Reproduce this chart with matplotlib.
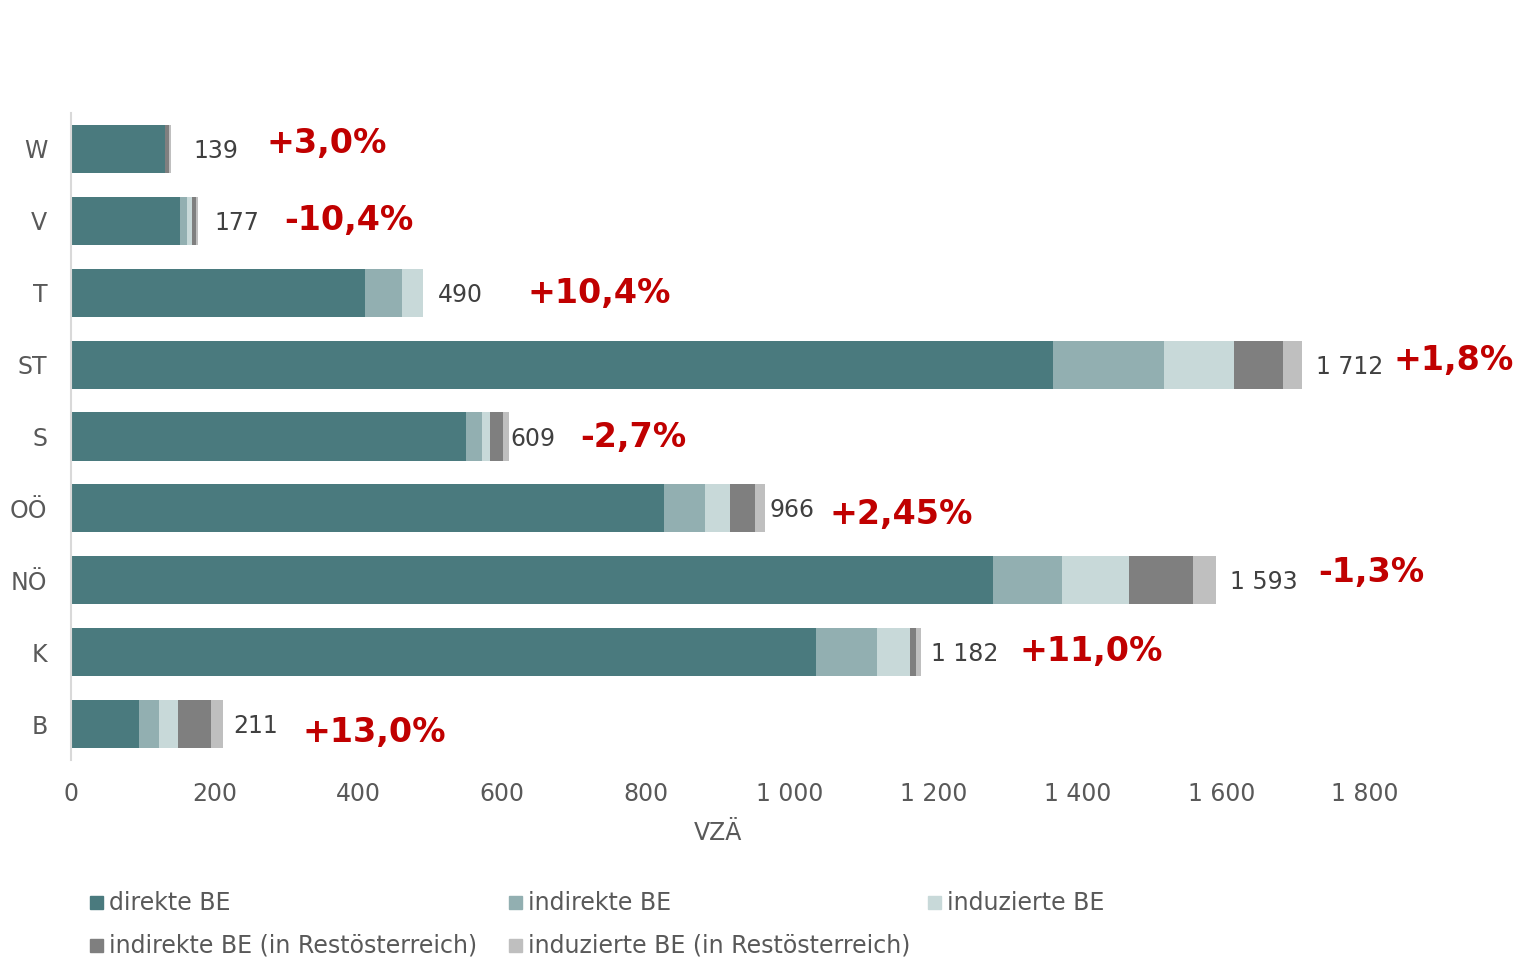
import matplotlib.pyplot as plt
import numpy as np
from matplotlib.patches import Rectangle

regions = ['W', 'V', 'T', 'ST', 'S', 'OÖ', 'NÖ', 'K', 'B']
direkte = [131, 152, 409, 1366, 550, 825, 1282, 1036, 95]
indirekte = [0, 10, 51, 154, 22, 57, 96, 85, 27]
induzierte = [0, 6, 29, 98, 11, 34, 94, 46, 27]
indirekte_rest = [6, 6, 0, 68, 18, 36, 89, 9, 46]
induzierte_rest = [2, 3, 1, 26, 8, 14, 32, 6, 16]
totals = ['139', '177', '490', '1 712', '609', '966', '1 593', '1 182', '211']
changes = ['+3,0%', '-10,4%', '+10,4%', '+1,8%', '-2,7%', '+2,45%', '-1,3%', '+11,0%', '+13,0%']

series = [direkte, indirekte, induzierte, indirekte_rest, induzierte_rest]
names = ['direkte BE', 'indirekte BE', 'induzierte BE',
         'indirekte BE (in Restösterreich)', 'induzierte BE (in Restösterreich)']
colors = ['#4A7A7E', '#92AFB1', '#C8D9D9', '#7F7F7F', '#BFBFBF']

# label offsets in pixels (value label from bar end, percent label from bar end)
val_dx = [23, 16, 15, 14, 2, 4, 14, 10, 11]
pct_dx = [96, 86, 104, 92, 71, 64, 102, 99, 80]
pct_dy = [5, 0, -1, 4, -1, -6, 8, 1, -8]

plt.rcParams['font.family'] = ['DejaVu Sans']

W, H = 1521, 960
fig = plt.figure(figsize=(W / 100, H / 100), dpi=100)
ax = fig.add_axes([71 / W, 1 - 760 / H, (1365 - 71) / W, (760 - 113) / H])

y = np.arange(len(regions))[::-1]
left = np.zeros(len(regions))
for vals, name, c in zip(series, names, colors):
    ax.barh(y, vals, left=left, height=0.67, color=c, label=name)
    left += np.array(vals)

for i in range(len(regions)):
    ax.annotate(totals[i], (left[i], y[i]), xytext=(val_dx[i], -2),
                textcoords='offset pixels', ha='left', va='center',
                fontsize=17, color='#404040')
    ax.annotate(changes[i], (left[i], y[i]), xytext=(pct_dx[i], pct_dy[i]),
                textcoords='offset pixels', ha='left', va='center',
                fontsize=24, fontweight='heavy', color='#C00000')

ax.set_xlim(0, 1800)
ax.set_ylim(-0.5, len(regions) - 0.5)
ax.set_yticks(y)
ax.set_yticklabels(regions)
ticks = np.arange(0, 2000, 200)
ax.set_xticks(ticks)
ax.set_xticklabels([f'{t:,}'.replace(',', ' ') for t in ticks])
ax.tick_params(axis='both', length=0, labelsize=17, labelcolor='#595959')
ax.tick_params(axis='x', pad=16)
ax.tick_params(axis='y', pad=17)
ax.set_xlabel('VZÄ', fontsize=17, color='#595959', labelpad=11)
for s in ['top', 'right', 'bottom']:
    ax.spines[s].set_visible(False)
ax.spines['left'].set_color('#D9D9D9')
ax.spines['left'].set_linewidth(1.5)

# legend, laid out row by row
leg_x = [90, 509, 928, 90, 509]
leg_y = [903, 903, 903, 946, 946]
for k in range(len(names)):
    fig.patches.append(Rectangle((leg_x[k] / W, 1 - (leg_y[k] + 6) / H), 13 / W, 13 / H,
                                 transform=fig.transFigure, color=colors[k]))
    fig.text((leg_x[k] + 19) / W, 1 - leg_y[k] / H, names[k], fontsize=17,
             color='#595959', ha='left', va='center')

fig.savefig('out.png', dpi=100)
